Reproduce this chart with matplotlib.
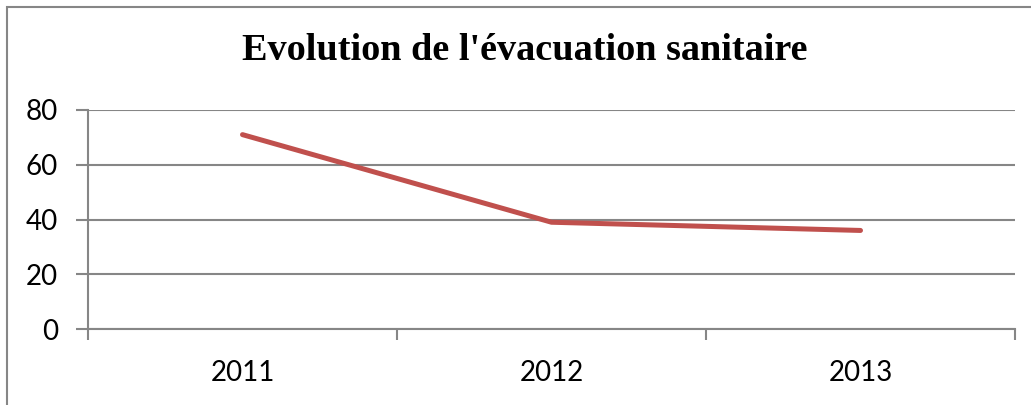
import matplotlib
matplotlib.use("Agg")
import matplotlib.pyplot as plt
from matplotlib.patches import Rectangle

# donnees
annees = ["2011", "2012", "2013"]
evacuations = [71, 39, 36]
y_ticks = [0, 20, 40, 60, 80]

fig = plt.figure(figsize=(10.31, 4.05), dpi=100)
ax = fig.add_axes([88 / 1031, 76 / 405, 927 / 1031, 219 / 405])

x = list(range(len(annees)))
ax.plot(x, evacuations, color="#C0504D", linewidth=3.6, solid_capstyle="round")

ax.set_xlim(-0.5, len(annees) - 0.5)
ax.set_ylim(0, 80)
ax.set_yticks(y_ticks)
ax.set_yticklabels([str(v) for v in y_ticks], fontsize=20, family="Lato")
ax.yaxis.grid(True, color="#868686", linewidth=1.5)
ax.set_axisbelow(True)

# ticks entre les categories, libelles au centre
ax.set_xticks([i - 0.5 for i in range(len(annees) + 1)])
ax.set_xticklabels([])
ax.set_xticks(x, minor=True)
ax.set_xticklabels(annees, minor=True, fontsize=20, family="Lato")
ax.tick_params(axis="x", which="major", length=8, color="#868686", width=1.5, direction="out")
ax.tick_params(axis="x", which="minor", length=0, pad=22)
ax.tick_params(axis="y", length=8.5, color="#868686", width=1.5, pad=13)

for s in ["top", "right"]:
    ax.spines[s].set_visible(False)
for s in ["left", "bottom"]:
    ax.spines[s].set_color("#868686")
    ax.spines[s].set_linewidth(1.5)

fig.text(525 / 1031, 1 - 50 / 405, "Evolution de l'évacuation sanitaire",
         ha="center", va="center", fontsize=27.5, fontweight="bold", family="Liberation Serif")

# cadre du graphique
fig.patches.append(Rectangle((7 / 1031, -0.01), 1.05, 1 - 7 / 405 + 0.01, transform=fig.transFigure,
                             fill=False, edgecolor="#868686", linewidth=1.5))

fig.savefig("out.png", dpi=100)
